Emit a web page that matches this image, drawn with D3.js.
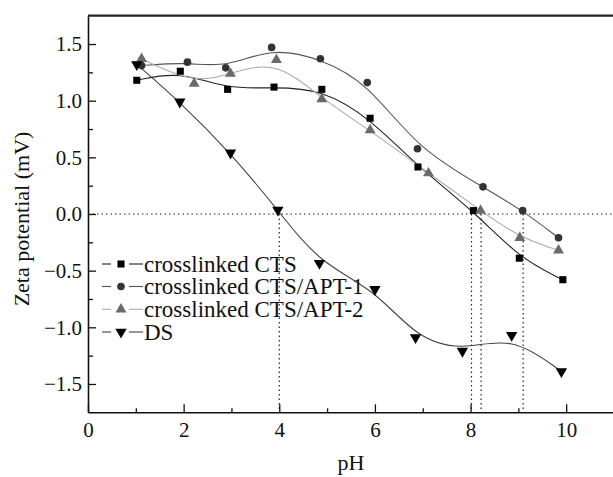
<!DOCTYPE html>
<html>
<head>
<meta charset="utf-8">
<script src="https://cdn.jsdelivr.net/npm/d3@7"></script>
<style>
  body { margin: 0; background: #fff; }
  text { font-family: "Liberation Serif", "Times New Roman", serif; fill: #111; }
</style>
</head>
<body>
<div id="chart"></div>
<script>
// values
const ctsX = [1.02, 1.93, 2.92, 3.89, 4.89, 5.90, 6.90, 8.06, 9.02, 9.93];
const ctsY = [1.18, 1.26, 1.10, 1.12, 1.10, 0.845, 0.415, 0.03, -0.39, -0.58];

const apt1X = [1.12, 2.08, 2.88, 3.84, 4.86, 5.84, 6.89, 8.26, 9.09, 9.84];
const apt1Y = [1.31, 1.34, 1.29, 1.47, 1.37, 1.16, 0.576, 0.24, 0.03, -0.21];

const apt2X = [1.12, 2.22, 2.98, 3.94, 4.89, 5.90, 7.12, 8.21, 9.03, 9.84];
const apt2Y = [1.37, 1.15, 1.24, 1.36, 1.015, 0.74, 0.36, 0.03, -0.21, -0.32];

const dsX = [1.02, 1.92, 2.98, 3.97, 4.84, 6.00, 6.85, 7.83, 8.86, 9.90];
const dsY = [1.32, 0.99, 0.54, 0.035, -0.435, -0.665, -1.09, -1.21, -1.07, -1.39];

const seriesNames = ["crosslinked CTS", "crosslinked CTS/APT-1", "crosslinked CTS/APT-2", "DS"];
const zeroCrossings = [4.0, 8.02, 8.22, 9.1];

const xTicks = [0, 2, 4, 6, 8, 10];
const xMinor = [1, 3, 5, 7, 9];
const yTicks = [-1.5, -1.0, -0.5, 0.0, 0.5, 1.0, 1.5];
const yMinor = [-1.25, -0.75, -0.25, 0.25, 0.75, 1.25];

const W = 613, H = 477;
const svg = d3.select("#chart").append("svg")
  .attr("width", W).attr("height", H);

const x = d3.scaleLinear().domain([0, 11]).range([88, 614]);
const y = d3.scaleLinear().domain([-1.75, 1.75]).range([412.3, 15.7]);

const series = [
  { name: seriesNames[0], xs: ctsX, ys: ctsY, line: "#222", fill: "#000", sym: d3.symbolSquare, size: 50, rot: 0 },
  { name: seriesNames[1], xs: apt1X, ys: apt1Y, line: "#555", fill: "#333", sym: d3.symbolCircle, size: 46, rot: 0 },
  { name: seriesNames[2], xs: apt2X, ys: apt2Y, line: "#aaa", fill: "#6a6a6a", sym: d3.symbolTriangle, size: 52, rot: 0 },
  { name: seriesNames[3], xs: dsX, ys: dsY, line: "#444", fill: "#000", sym: d3.symbolTriangle, size: 56, rot: 180 }
];

// dotted reference lines
svg.append("line")
  .attr("x1", x(0)).attr("x2", W)
  .attr("y1", y(0)).attr("y2", y(0))
  .attr("stroke", "#222").attr("stroke-width", 1.2)
  .attr("stroke-dasharray", "1.5,3");

svg.selectAll(".vdot")
  .data(zeroCrossings)
  .enter().append("line")
  .attr("class", "vdot")
  .attr("x1", d => x(d)).attr("x2", d => x(d))
  .attr("y1", y(0)).attr("y2", y(-1.75))
  .attr("stroke", "#222").attr("stroke-width", 1.2)
  .attr("stroke-dasharray", "1.5,3");

// curves
const line = d3.line()
  .x(d => x(d[0]))
  .y(d => y(d[1]))
  .curve(d3.curveBasis);

series.forEach(s => {
  const pts = s.xs.map((v, i) => [v, s.ys[i]]);
  svg.append("path")
    .datum(pts)
    .attr("d", line)
    .attr("fill", "none")
    .attr("stroke", s.line)
    .attr("stroke-width", 1.1);
});

// markers
series.forEach(s => {
  const pts = s.xs.map((v, i) => [v, s.ys[i]]);
  svg.selectAll(null)
    .data(pts)
    .enter().append("path")
    .attr("d", d3.symbol().type(s.sym).size(s.size))
    .attr("transform", d => `translate(${x(d[0])},${y(d[1])}) rotate(${s.rot})`)
    .attr("fill", s.fill);
});

// axes
const yAxis = svg.append("g")
  .attr("transform", `translate(${x(0)},0)`)
  .call(d3.axisLeft(y).tickValues(yTicks).tickSizeInner(-8).tickSizeOuter(0)
    .tickPadding(6).tickFormat(d3.format(".1f")));
yAxis.select(".domain").attr("stroke", "#111").attr("stroke-width", 1.6);
yAxis.selectAll(".tick line").attr("stroke", "#111").attr("stroke-width", 1.3);
yAxis.selectAll("text").style("font-size", "21px");

svg.append("g")
  .attr("transform", `translate(${x(0)},0)`)
  .call(d3.axisLeft(y).tickValues(yMinor).tickSizeInner(-5).tickSizeOuter(0).tickFormat(""))
  .call(g => g.select(".domain").remove())
  .selectAll(".tick line").attr("stroke", "#111").attr("stroke-width", 1.3);

const xAxis = svg.append("g")
  .attr("transform", `translate(0,${y(-1.75)})`)
  .call(d3.axisBottom(x).tickValues(xTicks).tickSizeInner(-8).tickSizeOuter(0)
    .tickPadding(10).tickFormat(d3.format("d")));
xAxis.select(".domain").attr("stroke", "#111").attr("stroke-width", 1.6);
xAxis.selectAll(".tick line").attr("stroke", "#111").attr("stroke-width", 1.3);
xAxis.selectAll("text").style("font-size", "21px");

svg.append("g")
  .attr("transform", `translate(0,${y(-1.75)})`)
  .call(d3.axisBottom(x).tickValues(xMinor).tickSizeInner(-4).tickSizeOuter(0).tickFormat(""))
  .call(g => g.select(".domain").remove())
  .selectAll(".tick line").attr("stroke", "#111").attr("stroke-width", 1.3);

// top frame line
svg.append("line")
  .attr("x1", x(0)).attr("x2", W)
  .attr("y1", y(1.75)).attr("y2", y(1.75))
  .attr("stroke", "#222").attr("stroke-width", 2.2);

// axis titles
svg.append("text")
  .attr("text-anchor", "middle")
  .attr("transform", "translate(29,219) rotate(-90)")
  .style("font-size", "22px")
  .text("Zeta potential (mV)");

svg.append("text")
  .attr("text-anchor", "middle")
  .attr("x", 351).attr("y", 470)
  .style("font-size", "22px")
  .text("pH");

// legend
const legend = svg.append("g");
const rowY = [264, 286.5, 309.3, 332];
series.forEach((s, i) => {
  const g = legend.append("g").attr("transform", `translate(0,${rowY[i]})`);
  g.append("line").attr("x1", 102).attr("x2", 111).attr("y1", 0).attr("y2", 0)
    .attr("stroke", s.line).attr("stroke-width", 1.1);
  g.append("line").attr("x1", 129).attr("x2", 143).attr("y1", 0).attr("y2", 0)
    .attr("stroke", s.line).attr("stroke-width", 1.1);
  g.append("path")
    .attr("d", d3.symbol().type(s.sym).size(s.size))
    .attr("transform", `translate(121,0) rotate(${s.rot})`)
    .attr("fill", s.fill);
  g.append("text")
    .attr("x", 144).attr("y", 7.5)
    .style("font-size", "23px")
    .text(s.name);
});
</script>
</body>
</html>
